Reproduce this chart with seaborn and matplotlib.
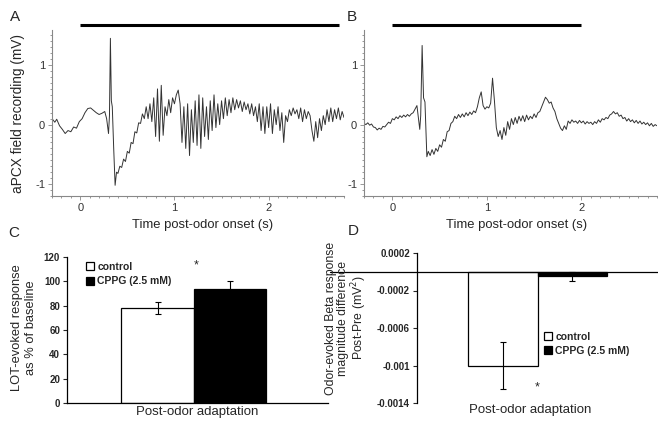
import matplotlib
matplotlib.use("Agg")
import matplotlib.pyplot as plt
import pandas as pd
import seaborn as sns
from matplotlib.ticker import MultipleLocator

# ---- panel A trace: aPCX field recording, control (s, mV)
t_a = [-0.30, -0.27, -0.25, -0.22, -0.19, -0.16, -0.13, -0.10, -0.07, -0.04,
       -0.01, 0.02, 0.05, 0.08, 0.11, 0.14, 0.17, 0.20, 0.23, 0.26,
       0.28, 0.30, 0.31, 0.32, 0.33, 0.34, 0.355, 0.37, 0.385, 0.40,
       0.42, 0.44, 0.46, 0.48, 0.50, 0.52, 0.54, 0.56, 0.58, 0.60,
       0.62, 0.64, 0.66, 0.68, 0.70, 0.72, 0.74, 0.76, 0.78, 0.80,
       0.82, 0.84, 0.86, 0.88, 0.90, 0.92, 0.94, 0.96, 0.98, 1.00,
       1.02, 1.04, 1.06, 1.08, 1.10, 1.12, 1.14, 1.16, 1.18, 1.20,
       1.22, 1.24, 1.26, 1.28, 1.30, 1.32, 1.34, 1.36, 1.38, 1.40,
       1.42, 1.44, 1.46, 1.48, 1.50, 1.52, 1.54, 1.56, 1.58, 1.60,
       1.62, 1.64, 1.66, 1.68, 1.70, 1.72, 1.74, 1.76, 1.78, 1.80,
       1.82, 1.84, 1.86, 1.88, 1.90, 1.92, 1.94, 1.96, 1.98, 2.00,
       2.02, 2.04, 2.06, 2.08, 2.10, 2.12, 2.14, 2.16, 2.18, 2.20,
       2.22, 2.24, 2.26, 2.28, 2.30, 2.32, 2.34, 2.36, 2.38, 2.40,
       2.42, 2.44, 2.46, 2.48, 2.50, 2.52, 2.54, 2.56, 2.58, 2.60,
       2.62, 2.64, 2.66, 2.68, 2.70, 2.72, 2.74, 2.76, 2.78, 2.80]
v_a = [0.10, 0.04, 0.09, -0.02, -0.08, -0.15, -0.10, -0.12, -0.04, -0.06,
       0.05, 0.10, 0.20, 0.27, 0.28, 0.24, 0.20, 0.17, 0.19, 0.22,
       0.10, -0.15, 0.15, 1.45, 0.40, 0.30, -0.40, -1.02, -0.80, -0.82,
       -0.70, -0.72, -0.58, -0.62, -0.45, -0.48, -0.30, -0.32, -0.12, -0.14,
       0.03, 0.02, 0.18, 0.10, 0.30, 0.10, 0.35, 0.05, 0.45, -0.20,
       0.60, -0.28, 0.66, -0.18, 0.30, 0.15, 0.42, 0.20, 0.45, 0.35,
       0.50, 0.58, 0.35, -0.30, 0.30, -0.40, 0.35, -0.52, 0.25, -0.30,
       0.40, -0.35, 0.50, -0.40, 0.45, -0.20, 0.30, -0.25, 0.40, -0.10,
       0.50, -0.05, 0.35, 0.00, 0.40, 0.10, 0.45, 0.15, 0.42, 0.20,
       0.45, 0.25, 0.42, 0.28, 0.40, 0.22, 0.38, 0.25, 0.35, 0.18,
       0.35, 0.15, 0.30, 0.05, 0.35, -0.10, 0.30, -0.15, 0.30, -0.05,
       0.35, -0.15, 0.25, 0.00, 0.30, -0.10, 0.20, -0.30, 0.15, 0.05,
       0.25, 0.15, 0.28, 0.18, 0.25, 0.10, 0.28, 0.05, 0.25, 0.10,
       0.22, 0.15, -0.10, -0.28, 0.05, -0.22, 0.10, -0.10, 0.15, 0.00,
       0.25, 0.05, 0.28, 0.05, 0.25, 0.10, 0.28, 0.08, 0.22, 0.12]

# ---- panel B trace: with CPPG
t_b = [-0.30, -0.28, -0.26, -0.24, -0.22, -0.20, -0.18, -0.16, -0.14, -0.12,
       -0.10, -0.08, -0.06, -0.04, -0.02, 0.00, 0.02, 0.04, 0.06, 0.08,
       0.10, 0.12, 0.14, 0.16, 0.18, 0.20, 0.22, 0.24, 0.26, 0.28,
       0.29, 0.30, 0.315, 0.33, 0.345, 0.355, 0.365, 0.38, 0.40,
       0.42, 0.44, 0.46, 0.48, 0.50, 0.52, 0.54, 0.56, 0.58, 0.60,
       0.62, 0.64, 0.66, 0.68, 0.70, 0.72, 0.74, 0.76, 0.78, 0.80,
       0.82, 0.84, 0.86, 0.88, 0.90, 0.92, 0.94, 0.96, 0.98, 1.00,
       1.02, 1.04, 1.06, 1.08, 1.10, 1.12, 1.14, 1.16, 1.18, 1.20,
       1.22, 1.24, 1.26, 1.28, 1.30, 1.32, 1.34, 1.36, 1.38, 1.40,
       1.42, 1.44, 1.46, 1.48, 1.50, 1.52, 1.54, 1.56, 1.58, 1.60,
       1.62, 1.64, 1.66, 1.68, 1.70, 1.72, 1.74, 1.76, 1.78, 1.80,
       1.82, 1.84, 1.86, 1.88, 1.90, 1.92, 1.94, 1.96, 1.98, 2.00,
       2.02, 2.04, 2.06, 2.08, 2.10, 2.12, 2.14, 2.16, 2.18, 2.20,
       2.22, 2.24, 2.26, 2.28, 2.30, 2.32, 2.34, 2.36, 2.38, 2.40,
       2.42, 2.44, 2.46, 2.48, 2.50, 2.52, 2.54, 2.56, 2.58, 2.60,
       2.62, 2.64, 2.66, 2.68, 2.70, 2.72, 2.74, 2.76, 2.78, 2.80]
v_b = [0.02, 0.00, 0.03, -0.01, 0.01, -0.04, -0.05, -0.09, -0.06, -0.08,
       -0.03, -0.04, 0.00, 0.04, 0.02, 0.10, 0.08, 0.13, 0.10, 0.15,
       0.12, 0.16, 0.13, 0.17, 0.14, 0.18, 0.20, 0.26, 0.32, 0.05,
       -0.08, 0.15, 1.33, 0.45, 0.38, -0.10, -0.54, -0.45, -0.52,
       -0.42, -0.50, -0.40, -0.45, -0.34, -0.38, -0.25, -0.28, -0.12, -0.10,
       0.02, 0.05, 0.14, 0.10, 0.17, 0.12, 0.18, 0.13, 0.20, 0.15,
       0.21, 0.17, 0.23, 0.20, 0.30, 0.45, 0.55, 0.32, 0.26, 0.30,
       0.28, 0.36, 0.78, 0.40, -0.05, -0.20, -0.10, -0.25, -0.05, -0.18,
       0.05, -0.08, 0.10, 0.00, 0.12, 0.02, 0.14, 0.06, 0.15, 0.05,
       0.16, 0.08, 0.14, 0.10, 0.18, 0.12, 0.20, 0.22, 0.30, 0.38,
       0.46, 0.42, 0.36, 0.38, 0.28, 0.22, 0.10, 0.02, -0.06, -0.10,
       -0.02, -0.08, 0.06, 0.02, 0.08, 0.04, 0.06, 0.02, 0.07, 0.03,
       0.06, 0.01, 0.05, 0.02, 0.04, 0.00, 0.05, 0.02, 0.08, 0.04,
       0.10, 0.08, 0.12, 0.10, 0.16, 0.18, 0.22, 0.18, 0.20, 0.14,
       0.16, 0.10, 0.12, 0.06, 0.10, 0.05, 0.08, 0.03, 0.07, 0.02,
       0.06, 0.01, 0.04, 0.00, 0.03, -0.02, 0.02, -0.03, 0.00, -0.02]

# odor delivery (s)
odor_a = [0.0, 2.75]
odor_b = [0.0, 2.0]

# ---- bar panels
groups = ["control", "CPPG (2.5 mM)"]
condition = "Post-odor adaptation"
c_means = [78, 94]
c_err = [5, 6]
d_means = [-0.001, -0.00005]
d_err = [0.00025, 0.00005]
d_ticks = [0.0002, -0.0002, -0.0006, -0.001, -0.0014]
d_labels = ["0.0002", "-0.0002", "-0.0006", "-0.001", "-0.0014"]

sns.set_style("ticks")
plt.rcParams["font.family"] = ["Liberation Sans", "DejaVu Sans"]
plt.rcParams["axes.unicode_minus"] = False

W, H = 658, 424
fig = plt.figure(figsize=(W / 100, H / 100), dpi=100)


def px_axes(l, t, r, b):
    return fig.add_axes([l / W, 1 - b / H, (r - l) / W, (b - t) / H])


def ftext(x, y, s, **kw):
    fig.text(x / W, 1 - y / H, s, ha="center", va="center", **kw)


# traces
for ax, t, v, odor in [(px_axes(52, 30, 344, 196), t_a, v_a, odor_a),
                       (px_axes(364, 30, 657, 196), t_b, v_b, odor_b)]:
    sns.lineplot(x=t, y=v, ax=ax, color="#333333", linewidth=0.7,
                 estimator=None, sort=False)
    ax.plot(odor, [1.67, 1.67], color="black", lw=2.2, clip_on=False,
            solid_capstyle="butt")
    ax.set_xlim(-0.3, 2.8)
    ax.set_ylim(-1.2, 1.59)
    ax.xaxis.set_major_locator(MultipleLocator(1))
    ax.xaxis.set_minor_locator(MultipleLocator(0.1))
    ax.yaxis.set_major_locator(MultipleLocator(1))
    ax.yaxis.set_minor_locator(MultipleLocator(0.1))
    sns.despine(ax=ax)
    for s in ["left", "bottom"]:
        ax.spines[s].set_color("#888888")
        ax.spines[s].set_linewidth(0.8)
    ax.tick_params(which="both", colors="#888888", labelcolor="#333333",
                   labelsize=8, direction="out", width=0.6, pad=2)
    ax.tick_params(which="major", length=3)
    ax.tick_params(which="minor", length=1.5)
    ax.set_xlabel("")
    ax.set_ylabel("")

# panel C
ax_c = px_axes(67, 257, 328, 403)
df_c = pd.DataFrame({"condition": [condition] * 2, "group": groups, "value": c_means})
pal = {"control": "white", "CPPG (2.5 mM)": "black"}
sns.barplot(data=df_c, x="condition", y="value", hue="group", palette=pal,
            edgecolor="black", linewidth=0.9, errorbar=None, width=0.8, ax=ax_c)
for cont, e in zip(ax_c.containers, c_err):
    bar = cont.patches[0]
    ax_c.errorbar(bar.get_x() + bar.get_width() / 2, bar.get_y() + bar.get_height(),
                  yerr=e, fmt="none", ecolor="black", elinewidth=0.8,
                  capsize=2.5, capthick=0.8)
ax_c.text(0.01, 113, "*", ha="center", va="center", fontsize=9)
ax_c.set_xlim(-0.7, 0.74)
ax_c.set_ylim(0, 120)
ax_c.set_yticks(range(0, 121, 20))
ax_c.set_xticks([])
sns.despine(ax=ax_c)
h, l = ax_c.get_legend_handles_labels()
ax_c.legend(h, l, loc="upper left", bbox_to_anchor=(86 / W, 1 - 262 / H),
            bbox_transform=fig.transFigure, frameon=False, borderpad=0,
            borderaxespad=0, handlelength=0.8, handleheight=0.8,
            handletextpad=0.3, labelspacing=0.4,
            prop={"weight": "bold", "size": 7.5})

# panel D
ax_d = px_axes(417, 253, 658, 403)
df_d = pd.DataFrame({"condition": [condition] * 2, "group": groups, "value": d_means})
sns.barplot(data=df_d, x="condition", y="value", hue="group", palette=pal,
            edgecolor="black", linewidth=0.9, errorbar=None, width=0.8, ax=ax_d)
for cont, e in zip(ax_d.containers, d_err):
    bar = cont.patches[0]
    ax_d.errorbar(bar.get_x() + bar.get_width() / 2, bar.get_y() + bar.get_height(),
                  yerr=e, fmt="none", ecolor="black", elinewidth=0.8,
                  capsize=2.5, capthick=0.8)
ax_d.axhline(0, xmin=-0.36, xmax=1, color="black", lw=0.9, clip_on=False)
ax_d.text(0.0, -0.00123, "*", ha="center", va="center", fontsize=9)
ax_d.set_xlim(-0.69, 0.69)
ax_d.set_ylim(-0.0014, 0.0002)
ax_d.set_yticks(d_ticks)
ax_d.set_yticklabels(d_labels)
ax_d.set_xticks([])
sns.despine(ax=ax_d, bottom=True)
h, l = ax_d.get_legend_handles_labels()
ax_d.legend(h, l, loc="upper left", bbox_to_anchor=(544 / W, 1 - 332 / H),
            bbox_transform=fig.transFigure, frameon=False, borderpad=0,
            borderaxespad=0, handlelength=0.8, handleheight=0.8,
            handletextpad=0.3, labelspacing=0.35,
            prop={"weight": "bold", "size": 7.5})

for ax in [ax_c, ax_d]:
    ax.set_xlabel("")
    ax.set_ylabel("")
    for s in ["left", "bottom"]:
        ax.spines[s].set_linewidth(0.9)
        ax.spines[s].set_color("black")
    ax.tick_params(axis="y", labelsize=7, length=3, width=0.8, pad=2)
    for lab in ax.get_yticklabels():
        lab.set_fontweight("bold")

# labels
ftext(15, 17, "A", fontsize=11)
ftext(352, 17, "B", fontsize=11)
ftext(14, 233, "C", fontsize=11)
ftext(353, 231, "D", fontsize=11)
ftext(18, 113, "aPCX field recording (mV)", fontsize=9.8, rotation=90)
ftext(203, 225, "Time post-odor onset (s)", fontsize=9.4)
ftext(517, 225, "Time post-odor onset (s)", fontsize=9.4)
ftext(24, 328, "LOT-evoked response\nas % of baseline", fontsize=9.3,
      rotation=90, linespacing=1.15)
ftext(197, 412, "Post-odor adaptation", fontsize=9.5)
ftext(530, 410, "Post-odor adaptation", fontsize=9.5)
ftext(347, 318, "Odor-evoked Beta response\nmagnitude difference\nPost-Pre (mV$^2$)",
      fontsize=8.8, rotation=90, linespacing=1.0)

fig.savefig("out.png", dpi=100)
